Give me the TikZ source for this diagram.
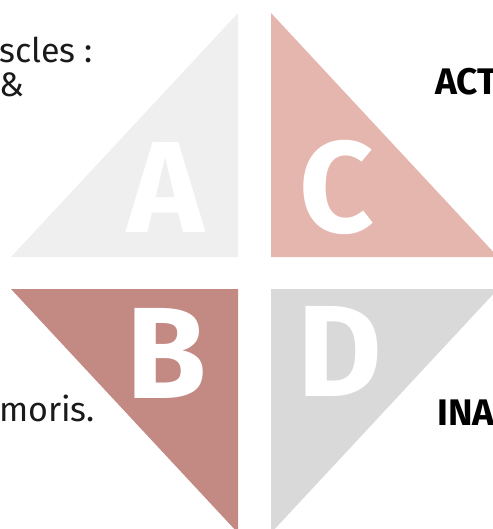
\documentclass[tikz,border=0pt]{standalone}
\usepackage{fontspec}
\setmainfont{Fira Sans}
\definecolor{quadA}{HTML}{EFEFEF}
\definecolor{quadB}{HTML}{C38983}
\definecolor{quadC}{HTML}{E4B6AE}
\definecolor{quadD}{HTML}{D9D9D9}
\definecolor{ink}{HTML}{1A1A1A}
\usepackage{tikz}

\begin{document}
\begin{tikzpicture}[
  x=1pt, y=-1pt,
  letter/.style={font=\fontsize{130}{130}\selectfont\bfseries, text=white, anchor=base, inner sep=0pt},
  note/.style={font=\fontsize{34}{40}\selectfont, text=ink, anchor=base west, inner sep=0pt},
  tag/.style={font=\fontsize{37}{42}\selectfont\bfseries, text=black, anchor=base west, inner sep=0pt},
]
\useasboundingbox (0,0) rectangle (492,529);
% the four quarters of the diamond
\fill[quadA] (11,257) -- (238,257) -- (238,13) -- cycle;
\fill[quadC] (271,13) -- (271,257) -- (498,257) -- cycle;
\fill[quadB] (11,289) -- (238,289) -- (238,533) -- cycle;
\fill[quadD] (271,289) -- (498,289) -- (271,533) -- cycle;
\node[letter] (a) at (166,232) {A};
\node[letter] (c) at (337,232) {C};
\node[letter] (b) at (167,398) {B};
\node[letter] (d) at (340,396) {D};
% side texts
\node[note] (muscles) at (-1,63) {scles :};
\node[note] (amp) at (-1,97) {\&};
\node[note] (moris) at (-1,421) {moris.};
\node[tag] (act) at (435,95) {ACT};
\node[tag] (ina) at (437,425) {INA};
\end{tikzpicture}
\end{document}
